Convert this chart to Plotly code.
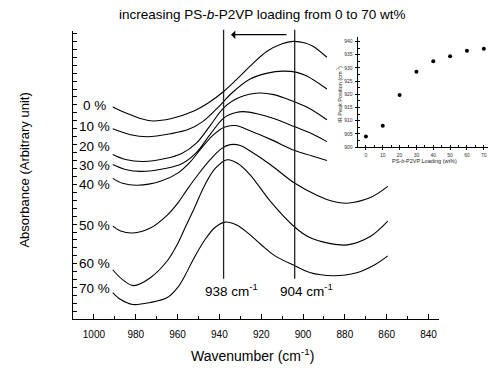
import plotly.graph_objects as go

W, H = 491, 372

# ---- data ----
labels = ["0 %", "10 %", "20 %", "30 %", "40 %", "50 %", "60 %", "70 %"]

wn_0 = [991, 982.5, 973, 963.3, 952.5, 945, 937.7, 931, 925.3, 917.2, 910, 904.8, 899, 895.3, 888.6]
ab_0 = [26.75, 25.75, 25.0, 25.25, 26.19, 27.3, 28.75, 30.4, 31.88, 33.75, 34.7, 35.0, 34.8, 34.38, 33.0]

wn_10 = [991, 982.5, 974.4, 963.3, 955, 948, 941, 934, 925.3, 917, 909.6, 903, 898.2, 888.6]
ab_10 = [24.0, 23.25, 23.0, 23.38, 23.9, 24.9, 26.6, 28.5, 30.25, 31.0, 31.25, 31.1, 30.63, 29.0]

wn_20 = [991, 984.9, 976.3, 965.9, 958, 951, 944.4, 937.7, 930, 921, 914, 907.7, 898, 888.6]
ab_20 = [20.75, 20.13, 19.88, 20.25, 20.9, 22.2, 24.4, 26.7, 28.0, 28.5, 28.3, 27.75, 26.7, 25.13]

wn_30 = [991, 984.9, 977.7, 965.9, 958, 951, 944.4, 937.7, 932, 928.5, 922, 914, 903.9, 896, 888.6]
ab_30 = [19.5, 18.88, 18.63, 19.0, 19.6, 21.0, 23.3, 25.4, 26.05, 26.15, 25.9, 25.3, 24.25, 23.4, 22.38]

wn_40 = [991, 986.3, 979.2, 968.2, 960.1, 954, 949.1, 943, 937.7, 932.4, 925.3, 915, 903.9, 896, 888.6]
ab_40 = [17.75, 17.13, 16.88, 17.38, 18.38, 19.8, 21.4, 23.2, 24.2, 24.4, 23.75, 22.6, 21.25, 20.6, 20.0]

wn_50 = [991, 987.2, 981.5, 973.0, 964.9, 960, 955.3, 950, 944.4, 939, 934.8, 930, 925.3, 915.7,
         903.9, 893.4, 885, 879.0, 868.1, 859.5]
ab_50 = [11.75, 11.13, 10.88, 11.5, 13.13, 14.6, 16.4, 18.3, 20.1, 21.5, 22.0, 21.9, 21.2, 19.5,
         17.13, 15.63, 14.8, 14.63, 15.3, 16.75]

wn_60 = [991, 986.3, 981.1, 973.0, 964.9, 960, 956.3, 952, 947, 942, 936.3, 931, 925.3, 915.7,
         903.9, 896.8, 888, 879.0, 868.1, 859.5]
ab_60 = [6.25, 5.0, 4.25, 5.25, 7.38, 9.5, 11.6, 14.0, 16.9, 19.0, 20.1, 19.6, 18.2, 14.9,
         11.6, 10.3, 9.6, 9.38, 10.4, 12.38]

wn_70 = [991, 987.2, 981.5, 973.0, 964.9, 960, 956.3, 952, 947, 942, 937.2, 932, 926, 920,
         913.4, 903.9, 896.8, 885.7, 874.3, 865.7, 859.5]
ab_70 = [3.38, 2.5, 1.88, 2.13, 2.75, 4.0, 5.6, 7.8, 10.0, 11.6, 12.25, 11.9, 10.8, 9.4,
         8.0, 6.75, 5.9, 5.5, 5.88, 6.88, 8.0]

marker_lines = [938, 904]

loading = [0, 10, 20, 30, 40, 50, 60, 70]
peak_pos = [904.0, 908.1, 919.7, 928.5, 932.5, 934.4, 936.5, 937.2]

series = [(wn_0, ab_0), (wn_10, ab_10), (wn_20, ab_20), (wn_30, ab_30),
          (wn_40, ab_40), (wn_50, ab_50), (wn_60, ab_60), (wn_70, ab_70)]

FONT = "Arial, 'Liberation Sans', sans-serif"

def px_x(p):
    return p / W

def px_y(p):
    return 1 - p / H

fig = go.Figure()
for wn, ab in series:
    fig.add_trace(go.Scatter(x=wn, y=ab, mode="lines",
                             line=dict(color="black", width=1.1, shape="spline", smoothing=1.0),
                             hoverinfo="skip", xaxis="x", yaxis="y"))

fig.add_trace(go.Scatter(x=loading, y=peak_pos, mode="markers",
                         marker=dict(color="black", size=4),
                         xaxis="x2", yaxis="y2", hoverinfo="skip"))

shapes = []
for v in marker_lines:
    shapes.append(dict(type="line", xref="x", yref="paper", x0=v, x1=v,
                       y0=px_y(281), y1=px_y(30), line=dict(color="#222", width=1.3)))

annotations = []
label_py = [106.7, 128, 148, 166.7, 186, 227, 266, 291]
for i, (lab, py) in enumerate(zip(labels, label_py)):
    annotations.append(dict(text=lab, xref="paper", yref="paper",
                            x=px_x(81 if i == 0 else 77), y=px_y(py),
                            xanchor="left", yanchor="middle", showarrow=False,
                            font=dict(family=FONT, size=13.5, color="black")))

annotations.append(dict(text=f"{marker_lines[0]} cm<sup>-1</sup>", xref="paper", yref="paper",
                        x=px_x(203), y=px_y(292), xanchor="left", yanchor="middle",
                        showarrow=False, font=dict(family=FONT, size=13.5, color="black")))
annotations.append(dict(text=f"{marker_lines[1]} cm<sup>-1</sup>", xref="paper", yref="paper",
                        x=px_x(278), y=px_y(292), xanchor="left", yanchor="middle",
                        showarrow=False, font=dict(family=FONT, size=13.5, color="black")))

# arrow
annotations.append(dict(text="", xref="paper", yref="paper", x=px_x(231), y=px_y(35),
                        ax=57, ay=0, axref="pixel", ayref="pixel", showarrow=True,
                        arrowhead=1, arrowsize=1.2, arrowwidth=1.2, arrowcolor="black"))

# title
annotations.append(dict(text="increasing PS-<i>b</i>-P2VP loading from 0 to 70 wt%",
                        xref="paper", yref="paper", x=px_x(262), y=px_y(15),
                        xanchor="center", yanchor="middle", showarrow=False,
                        font=dict(family=FONT, size=13.5, color="black")))
# axis titles
annotations.append(dict(text="Wavenumber (cm<sup>-1</sup>)", xref="paper", yref="paper",
                        x=px_x(253), y=px_y(358), xanchor="center", yanchor="middle",
                        showarrow=False, font=dict(family=FONT, size=14, color="black")))
annotations.append(dict(text="Absorbance (Arbitrary unit)", xref="paper", yref="paper",
                        x=px_x(25), y=px_y(172), xanchor="center", yanchor="middle",
                        textangle=-90, showarrow=False,
                        font=dict(family=FONT, size=13, color="black")))
# inset axis titles
annotations.append(dict(text="PS-<i>b</i>-P2VP Loading (wt%)", xref="paper", yref="paper",
                        x=px_x(424), y=px_y(162.5), xanchor="center", yanchor="middle",
                        showarrow=False, font=dict(family=FONT, size=5.5, color="#222")))
annotations.append(dict(text="IR Peak Position (cm<sup>-1</sup>)", xref="paper", yref="paper",
                        x=px_x(339.5), y=px_y(95), xanchor="center", yanchor="middle",
                        textangle=-90, showarrow=False,
                        font=dict(family=FONT, size=5.5, color="#222")))

fig.update_layout(
    width=W, height=H, margin=dict(l=0, r=0, t=0, b=0),
    paper_bgcolor="white", plot_bgcolor="rgba(0,0,0,0)", showlegend=False,
    shapes=shapes, annotations=annotations,
    xaxis=dict(domain=[px_x(73), px_x(439)], range=[1010, 835], showline=True,
               linecolor="black", linewidth=1, showgrid=False, zeroline=False,
               ticks="inside", ticklen=5, tickwidth=1, tickcolor="black",
               tick0=1000, dtick=20, ticklabelstandoff=6,
               minor=dict(ticks="inside", ticklen=3, dtick=10, tick0=1000, tickcolor="black", showgrid=False),
               tickfont=dict(family=FONT, size=10, color="black"), anchor="y"),
    yaxis=dict(domain=[px_y(322), px_y(31.7)], range=[0, 36.25], showline=True,
               linecolor="black", linewidth=1, showgrid=False, zeroline=False,
               ticks="inside", ticklen=4, tickwidth=1, tickcolor="black",
               tick0=0, dtick=1, showticklabels=False, anchor="x"),
    xaxis2=dict(domain=[px_x(357.5), px_x(488)], range=[-5, 72.5], showline=True,
                linecolor="black", linewidth=1, showgrid=False, zeroline=False,
                ticks="outside", ticklen=2, tickwidth=0.8, tickcolor="black",
                tick0=0, dtick=10, ticklabelstandoff=1,
                minor=dict(ticks="inside", ticklen=2, dtick=5, tick0=0, tickcolor="black"),
                tickfont=dict(family=FONT, size=5, color="#333"), anchor="y2"),
    yaxis2=dict(domain=[px_y(148.3), px_y(37)], range=[900, 941.8], showline=True,
                linecolor="black", linewidth=1, showgrid=False, zeroline=False,
                ticks="outside", ticklen=2, tickwidth=0.8, tickcolor="black",
                tick0=900, dtick=5, ticklabelstandoff=1,
                minor=dict(ticks="inside", ticklen=2, dtick=2.5, tick0=900, tickcolor="black"),
                tickfont=dict(family=FONT, size=5, color="#333"), anchor="x2"),
)

fig.write_html("out.html")
